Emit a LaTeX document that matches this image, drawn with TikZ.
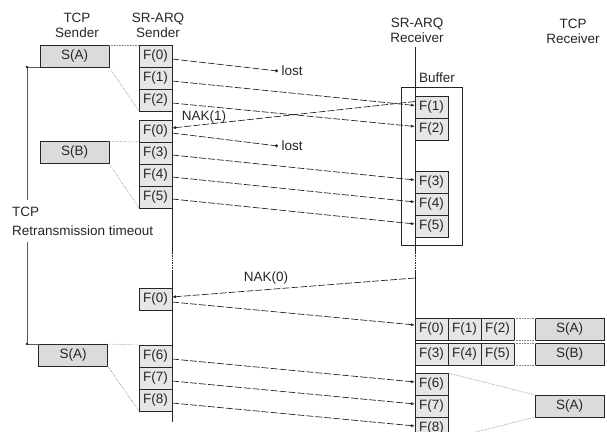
\documentclass[tikz,border=0pt]{standalone}
\usepackage{fontspec}
\setmainfont{Liberation Sans}
\usetikzlibrary{arrows.meta}
\definecolor{boxfill}{gray}{0.86}
\definecolor{ink}{gray}{0.15}

\begin{document}
\begin{tikzpicture}[x=1pt,y=-1pt,
    font=\fontsize{13.5}{15}\selectfont, text=ink,
    frame/.style={draw=ink, fill=boxfill!70, line width=0.7pt, minimum width=33pt,
        minimum height=22pt, inner sep=0pt, outer sep=0pt},
    seg/.style={draw=ink, fill=boxfill, line width=0.7pt, minimum width=69pt,
        minimum height=22pt, inner sep=0pt, outer sep=0pt},
    pkt/.style={draw=ink, line width=0.7pt, dash pattern=on 7pt off 2pt,
        -{Latex[length=4pt,width=3pt]}},
    losttip/.style={-{Circle[length=3pt]}},
    tie/.style={gray, densely dotted, line width=0.6pt},
    lifeline/.style={ink, line width=0.7pt},
    timer/.style={gray!70!black, line width=0.5pt},
]
    \path[use as bounding box, clip] (0,0) rectangle (607,431);

    % Headings
    \node[align=center] (hTS) at (77,25) {TCP\\Sender};
    \node[align=center] (hSS) at (158,25) {SR-ARQ\\Sender};
    \node[align=center] (hSR) at (417,30) {SR-ARQ\\Receiver};
    \node[align=center] (hTR) at (573,31) {TCP\\Receiver};

    % Life lines
    \draw[lifeline] (172,45) -- (172,253);
    \draw[lifeline, densely dotted] (172,253) -- (172,270);
    \draw[lifeline] (172,270) -- (172,422);
    \draw[lifeline] (415,47) -- (415,253);
    \draw[lifeline, densely dotted] (415,253) -- (415,270);
    \draw[lifeline] (415,270) -- (415,431);

    % Receive buffer
    \draw[lifeline] (401,87) rectangle (462,245);
    \node (buf) at (437,78) {Buffer};

    % SR-ARQ sender frames
    \foreach \n/\y in {0/56,1/78,2/100}
        \node[frame] (sa\n) at (155.5,\y) {F(\n)};
    \foreach \n/\y in {0/131,3/153,4/175,5/197}
        \node[frame] (sb\n) at (155.5,\y) {F(\n)};
    \node[frame] (sc0) at (155.5,299) {F(0)};
    \foreach \n/\y in {6/356,7/378,8/400}
        \node[frame] (sd\n) at (155.5,\y) {F(\n)};

    % SR-ARQ receiver frames
    \foreach \n/\y in {1/107.5,2/129.5,3/182,4/204,5/226}
        \node[frame] (ra\n) at (431.5,\y) {F(\n)};
    \foreach \n/\x in {0/431.5,1/464.5,2/497.5}
        \node[frame] (rb\n) at (\x,329) {F(\n)};
    \foreach \n/\x in {3/431.5,4/464.5,5/497.5}
        \node[frame] (rb\n) at (\x,354) {F(\n)};
    \foreach \n/\y in {6/384,7/406,8/428}
        \node[frame] (rc\n) at (431.5,\y) {F(\n)};

    % TCP segments
    \node[seg] (tA) at (74.5,56) {S(A)};
    \node[seg] (tB) at (74.5,152.5) {S(B)};
    \node[seg] (tC) at (73,355) {S(A)};
    \node[seg] (uA) at (569.5,329) {S(A)};
    \node[seg] (uB) at (569.5,354) {S(B)};
    \node[seg] (uC) at (569.5,406) {S(A)};

    % Segment to frame mapping
    \draw[tie] (tA.north east) -- (sa0.north west);
    \draw[tie] (tA.south east) -- (sa2.south west);
    \draw[tie] (tB.north east) -- (sb3.north west);
    \draw[tie] (tB.south east) -- (sb5.south west);
    \draw[tie] (tC.north east) -- (sd6.north west);
    \draw[tie] (tC.south east) -- (sd8.south west);
    \draw[tie] (rb2.north east) -- (uA.north west);
    \draw[tie] (rb2.south east) -- (uA.south west);
    \draw[tie] (rb5.north east) -- (uB.north west);
    \draw[tie] (rb5.south east) -- (uB.south west);
    \draw[tie] (rc6.north east) -- (uC.north west);
    \draw[tie] (rc8.south east) -- (uC.south west);

    % Frames on the link
    \coordinate (lost1) at (278,71);
    \coordinate (lost2) at (278,146);
    \coordinate (nak0) at (415,278);
    \draw[pkt, losttip] ([yshift=-3pt]sa0.east) -- (lost1);
    \node[right] (lostA) at (lost1) {lost};
    \draw[pkt] ([yshift=-3pt]sa1.east) -- ([yshift=2pt]ra1.west);
    \draw[pkt] ([yshift=-3pt]sa2.east) -- ([yshift=3pt]ra2.west);
    \draw[pkt] ([yshift=6pt]ra1.west) -- ([yshift=3pt]sb0.east);
    \node (nak1) at (204,117) {NAK(1)};
    \draw[pkt, losttip] ([yshift=-2pt]sb0.east) -- (lost2);
    \node[right] (lostB) at (lost2) {lost};
    \foreach \n in {3,4,5}
        \draw[pkt] ([yshift=-2pt]sb\n.east) -- ([yshift=2pt]ra\n.west);
    \draw[pkt] (nak0) -- ([yshift=2pt]sc0.east);
    \node (nakz) at (266,278) {NAK(0)};
    \draw[pkt] ([yshift=-3pt]sc0.east) -- ([yshift=4pt]rb0.west);
    \foreach \n in {6,7,8}
        \draw[pkt] ([yshift=-3pt]sd\n.east) -- ([yshift=2pt]rc\n.west);

    % TCP retransmission timer
    \node[align=left, anchor=north west, inner sep=0pt] (timeout) at (12,207)
        {TCP\\[4pt]Retransmission timeout};
    \coordinate (to1) at (27,67);
    \coordinate (to2) at (27,344);
    \coordinate (to1b) at (27,200);
    \coordinate (to2b) at (27,242);
    \draw[timer] (tA.south west) -- (to1) -- (to1b);
    \draw[timer] (to2b) -- (to2) -- (tC.north west);
    \fill[ink] (to1) circle (1.3pt);
    \fill[ink] (to2) circle (1.3pt);

\end{tikzpicture}
\end{document}
